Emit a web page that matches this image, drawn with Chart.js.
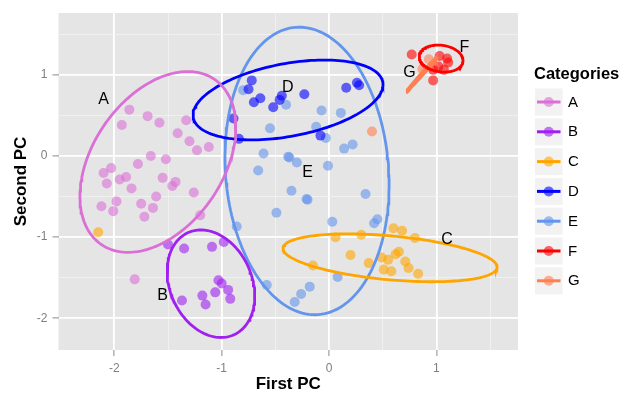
<!DOCTYPE html>
<html><head><meta charset="utf-8">
<script src="https://cdn.jsdelivr.net/npm/chart.js@4.4.0/dist/chart.umd.min.js"></script>
<style>html,body{margin:0;padding:0;background:#fff}#wrap{width:630px;height:394px}</style>
</head><body><div id="wrap"><canvas id="c" width="630" height="394"></canvas></div>
<script>
// ---------------- data ----------------
const categories = ['A','B','C','D','E','F','G'];
const pointsA = [[-1.86,0.57],[-1.93,0.38],[-1.69,0.49],[-1.58,0.41],[-1.33,0.44],[-1.41,0.28],[-1.30,0.18],[-1.23,0.07],[-1.12,0.11],[-1.66,0.00],[-1.52,-0.04],[-1.78,-0.10],[-2.03,-0.15],[-2.10,-0.21],[-1.89,-0.26],[-1.95,-0.29],[-2.07,-0.34],[-1.55,-0.27],[-1.43,-0.32],[-1.46,-0.37],[-1.84,-0.40],[-1.26,-0.45],[-1.61,-0.50],[-1.98,-0.56],[-2.12,-0.62],[-2.01,-0.68],[-1.75,-0.59],[-1.64,-0.64],[-1.72,-0.75],[-1.20,-0.73],[-1.81,-1.52]];
const pointsB = [[-1.50,-1.09],[-1.35,-1.14],[-1.09,-1.12],[-0.98,-1.06],[-1.03,-1.53],[-1.00,-1.57],[-1.06,-1.68],[-1.18,-1.72],[-0.94,-1.65],[-0.92,-1.76],[-1.15,-1.83],[-1.37,-1.78]];
const pointsC = [[-2.15,-0.94],[0.06,-1.00],[0.30,-0.97],[0.60,-0.89],[0.68,-0.92],[0.80,-1.01],[0.20,-1.22],[0.65,-1.18],[0.62,-1.21],[0.49,-1.25],[0.55,-1.28],[0.71,-1.30],[0.37,-1.32],[0.74,-1.38],[0.51,-1.40],[0.58,-1.42],[0.83,-1.45],[-0.15,-1.35]];
const pointsD = [[-0.72,0.93],[-0.75,0.82],[-0.64,0.71],[-0.70,0.66],[-0.52,0.60],[-0.46,0.69],[-0.44,0.74],[-0.23,0.76],[0.16,0.84],[0.26,0.90],[0.28,0.87],[-0.89,0.46],[-0.84,0.21],[-0.08,0.25]];
const pointsE = [[-0.80,0.81],[-0.40,0.63],[-0.07,0.56],[0.11,0.53],[-0.55,0.34],[-0.12,0.36],[-0.03,0.22],[0.14,0.09],[0.22,0.14],[-0.61,0.03],[-0.38,-0.01],[-0.37,-0.02],[-0.30,-0.08],[-0.01,-0.12],[-0.66,-0.18],[-0.35,-0.43],[-0.21,-0.53],[-0.20,-0.54],[-0.49,-0.70],[0.03,-0.81],[0.34,-0.47],[0.45,-0.78],[0.42,-0.83],[-0.86,-0.87],[0.08,-1.49],[-0.58,-1.59],[-0.18,-1.61],[-0.26,-1.70],[-0.32,-1.80]];
const pointsF = [[0.77,1.25],[1.03,1.23],[1.10,1.20],[1.11,1.15],[1.02,1.10],[0.97,1.06],[1.07,1.06],[0.97,0.93]];
const pointsG = [[0.93,1.19],[0.87,1.07],[0.40,0.30]];
const seriesPoints = [pointsA, pointsB, pointsC, pointsD, pointsE, pointsF, pointsG];

// ellipse: centre and two conjugate half-axis vectors (data units)
const ellipseCenter = [[-1.594,-0.074],[-1.100,-1.574],[0.5685,-1.255],[-0.382,0.689],[-0.205,-0.185],[1.044,1.199],[0.867,1.009]];
const ellipseU = [[0.527,1.017],[0.2115,-0.630],[0.997,-0.120],[0.8826,0.2196],[0.1056,-1.769],[0.2032,-0.0376],[0.1398,0.2091]];
const ellipseV = [[0.500,-0.453],[0.349,0.204],[-0.0186,-0.269],[0.0628,-0.440],[0.7572,0.0787],[-0.0172,-0.162],[0.0084,-0.0097]];

// text labels (data units)
const labelPos = [[-2.10,0.69],[-1.55,-1.72],[1.10,-1.03],[-0.385,0.84],[-0.20,-0.205],[1.26,1.33],[0.75,1.03]];

const xMajorTicks = [-2,-1,0,1];
const xMinorTicks = [-1.5,-0.5,0.5,1.5];
const yMajorTicks = [-2,-1,0,1];
const yMinorTicks = [-1.5,-0.5,0.5,1.5];
const xRange = [-2.52, 1.76];
const yRange = [-2.39, 1.76];

// ---------------- style ----------------
const FONT = "'Liberation Sans', Arial, Helvetica, sans-serif";
const colors = ['#DA70D6','#A020F0','#FFA500','#0000FF','#6495ED','#FF0000','#FF7F50'];
const POINT_ALPHA = 0.6;
const ELLIPSE_STEPS = 160;

function rgba(hex, a){const n=parseInt(hex.slice(1),16);return `rgba(${n>>16&255},${n>>8&255},${n&255},${a})`;}
function ellipsePoints(i){
  const [cx,cy]=ellipseCenter[i],[ux,uy]=ellipseU[i],[vx,vy]=ellipseV[i];
  const pts=[];
  for(let k=0;k<=ELLIPSE_STEPS;k++){const t=2*Math.PI*k/ELLIPSE_STEPS;
    pts.push({x:cx+ux*Math.cos(t)+vx*Math.sin(t), y:cy+uy*Math.cos(t)+vy*Math.sin(t)});}
  return pts;
}

const datasets = [];
categories.forEach((cat,i)=>{
  datasets.push({label:cat+' ellipse', data:ellipsePoints(i), showLine:true, pointRadius:0, borderColor:colors[i], borderWidth:2.8, fill:false, tension:0, order:1});
});
categories.forEach((cat,i)=>{
  datasets.push({label:cat, data:seriesPoints[i].map(p=>({x:p[0],y:p[1]})), pointRadius:5, pointHoverRadius:5, borderWidth:0, pointBorderWidth:0, backgroundColor:rgba(colors[i],POINT_ALPHA), showLine:false, order:2});
});

const isMajor = (arr,v)=>arr.some(m=>Math.abs(m-v)<1e-9);

function axis(major, minor, range, title, fit, tickPad, titlePad){
  return {
    type:'linear', min:range[0], max:range[1],
    afterBuildTicks: s => { s.ticks = major.concat(minor).sort((a,b)=>a-b).map(v=>({value:v})); },
    afterFit: fit,
    ticks:{ autoSkip:false, maxRotation:0, color:'#7F7F7F', font:{family:FONT,size:12},
      padding:tickPad, callback:(v)=> isMajor(major,v) ? String(v) : '' },
    grid:{ drawTicks:true, tickLength:6, tickWidth:1,
      color: c => isMajor(major,c.tick.value) ? '#FFFFFF' : '#F2F2F2',
      lineWidth: c => isMajor(major,c.tick.value) ? 1.8 : 0.8,
      tickColor: c => isMajor(major,c.tick.value) ? '#8A8A8A' : 'rgba(0,0,0,0)' },
    border:{display:false},
    title:{display:true, text:title, color:'#000', font:{family:FONT,size:17,weight:'bold'}, padding:titlePad}
  };
}

const bgPlugin = {id:'bg', beforeDraw(chart){
  const {ctx, chartArea:a} = chart; ctx.save();
  ctx.fillStyle='#fff'; ctx.fillRect(0,0,chart.width,chart.height);
  ctx.fillStyle='#E5E5E5'; ctx.fillRect(a.left,a.top,a.right-a.left,a.bottom-a.top);
  ctx.restore();
}};
const labelPlugin = {id:'lbls', afterDatasetsDraw(chart){
  const {ctx, scales:{x,y}} = chart; ctx.save();
  ctx.font = `16px ${FONT}`; ctx.fillStyle='#000'; ctx.textAlign='center'; ctx.textBaseline='middle';
  categories.forEach((cat,i)=>{ ctx.fillText(cat, x.getPixelForValue(labelPos[i][0]), y.getPixelForValue(labelPos[i][1])); });
  ctx.restore();
}};
const legendPlugin = {id:'leg', afterDraw(chart){
  const ctx = chart.ctx; ctx.save();
  const left = chart.chartArea.right + 17;
  ctx.fillStyle='#000'; ctx.textBaseline='middle'; ctx.textAlign='left';
  ctx.font = `bold 16.5px ${FONT}`; ctx.fillText('Categories', left - 1, 74);
  ctx.font = `15px ${FONT}`;
  categories.forEach((cat,i)=>{
    const cy = 102 + i*29.8;
    ctx.fillStyle='#F2F2F2'; ctx.fillRect(left, cy-13.5, 27.5, 27);
    ctx.strokeStyle=colors[i]; ctx.lineWidth=3; ctx.beginPath(); ctx.moveTo(left+2, cy); ctx.lineTo(left+25.5, cy); ctx.stroke();
    ctx.fillStyle=rgba(colors[i],POINT_ALPHA); ctx.beginPath(); ctx.arc(left+13.75, cy, 5, 0, Math.PI*2); ctx.fill();
    ctx.fillStyle='#000'; ctx.fillText(cat, left+33, cy+0.5);
  });
  ctx.restore();
}};

Chart.defaults.font.family = FONT;
new Chart(document.getElementById('c'), {
  type:'scatter',
  data:{datasets},
  options:{
    responsive:false, animation:false, devicePixelRatio:1,
    layout:{padding:{top:13,right:112,left:0,bottom:0}},
    plugins:{legend:{display:false}, tooltip:{enabled:false}},
    scales:{
      x: axis(xMajorTicks, xMinorTicks, xRange, 'First PC', s=>{s.height=44;}, 5, {top:0,bottom:-1}),
      y: axis(yMajorTicks, yMinorTicks, yRange, 'Second PC', s=>{s.width=58.5;}, 5, {top:11,bottom:0})
    }
  },
  plugins:[bgPlugin, labelPlugin, legendPlugin]
});
</script></body></html>
